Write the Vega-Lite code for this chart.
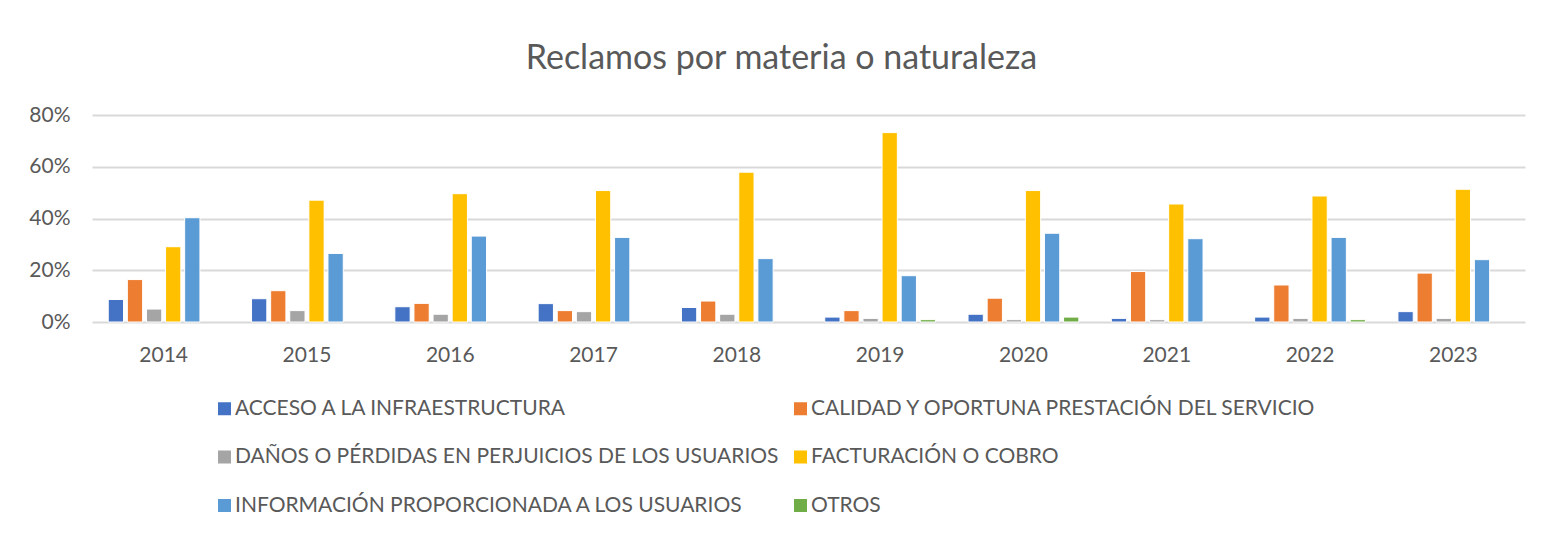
{
  "$schema": "https://vega.github.io/schema/vega-lite/v6.json",
  "width": 1433,
  "height": 207,
  "autosize": {"type": "none"},
  "padding": {"left": 92, "top": 115, "right": 17, "bottom": 211},
  "background": "white",
  "title": {
    "text": "Reclamos por materia o naturaleza",
    "font": "Lato",
    "fontSize": 34,
    "fontWeight": "normal",
    "color": "#595959",
    "anchor": "middle",
    "frame": "group",
    "dx": -27,
    "baseline": "alphabetic",
    "offset": 1
  },
  "data": {
    "values": [
      {"year": "2014", "cat": "ACCESO A LA INFRAESTRUCTURA", "value": 0.087},
      {"year": "2014", "cat": "CALIDAD Y OPORTUNA PRESTACIÓN DEL SERVICIO", "value": 0.164},
      {"year": "2014", "cat": "DAÑOS O PÉRDIDAS EN PERJUICIOS DE LOS USUARIOS", "value": 0.05},
      {"year": "2014", "cat": "FACTURACIÓN O COBRO", "value": 0.291},
      {"year": "2014", "cat": "INFORMACIÓN PROPORCIONADA A LOS USUARIOS", "value": 0.403},
      {"year": "2015", "cat": "ACCESO A LA INFRAESTRUCTURA", "value": 0.09},
      {"year": "2015", "cat": "CALIDAD Y OPORTUNA PRESTACIÓN DEL SERVICIO", "value": 0.121},
      {"year": "2015", "cat": "DAÑOS O PÉRDIDAS EN PERJUICIOS DE LOS USUARIOS", "value": 0.044},
      {"year": "2015", "cat": "FACTURACIÓN O COBRO", "value": 0.471},
      {"year": "2015", "cat": "INFORMACIÓN PROPORCIONADA A LOS USUARIOS", "value": 0.265},
      {"year": "2016", "cat": "ACCESO A LA INFRAESTRUCTURA", "value": 0.059},
      {"year": "2016", "cat": "CALIDAD Y OPORTUNA PRESTACIÓN DEL SERVICIO", "value": 0.072},
      {"year": "2016", "cat": "DAÑOS O PÉRDIDAS EN PERJUICIOS DE LOS USUARIOS", "value": 0.03},
      {"year": "2016", "cat": "FACTURACIÓN O COBRO", "value": 0.496},
      {"year": "2016", "cat": "INFORMACIÓN PROPORCIONADA A LOS USUARIOS", "value": 0.332},
      {"year": "2017", "cat": "ACCESO A LA INFRAESTRUCTURA", "value": 0.071},
      {"year": "2017", "cat": "CALIDAD Y OPORTUNA PRESTACIÓN DEL SERVICIO", "value": 0.044},
      {"year": "2017", "cat": "DAÑOS O PÉRDIDAS EN PERJUICIOS DE LOS USUARIOS", "value": 0.04},
      {"year": "2017", "cat": "FACTURACIÓN O COBRO", "value": 0.508},
      {"year": "2017", "cat": "INFORMACIÓN PROPORCIONADA A LOS USUARIOS", "value": 0.327},
      {"year": "2018", "cat": "ACCESO A LA INFRAESTRUCTURA", "value": 0.056},
      {"year": "2018", "cat": "CALIDAD Y OPORTUNA PRESTACIÓN DEL SERVICIO", "value": 0.081},
      {"year": "2018", "cat": "DAÑOS O PÉRDIDAS EN PERJUICIOS DE LOS USUARIOS", "value": 0.03},
      {"year": "2018", "cat": "FACTURACIÓN O COBRO", "value": 0.579},
      {"year": "2018", "cat": "INFORMACIÓN PROPORCIONADA A LOS USUARIOS", "value": 0.245},
      {"year": "2019", "cat": "ACCESO A LA INFRAESTRUCTURA", "value": 0.019},
      {"year": "2019", "cat": "CALIDAD Y OPORTUNA PRESTACIÓN DEL SERVICIO", "value": 0.044},
      {"year": "2019", "cat": "DAÑOS O PÉRDIDAS EN PERJUICIOS DE LOS USUARIOS", "value": 0.014},
      {"year": "2019", "cat": "FACTURACIÓN O COBRO", "value": 0.732},
      {"year": "2019", "cat": "INFORMACIÓN PROPORCIONADA A LOS USUARIOS", "value": 0.179},
      {"year": "2019", "cat": "OTROS", "value": 0.009},
      {"year": "2020", "cat": "ACCESO A LA INFRAESTRUCTURA", "value": 0.03},
      {"year": "2020", "cat": "CALIDAD Y OPORTUNA PRESTACIÓN DEL SERVICIO", "value": 0.092},
      {"year": "2020", "cat": "DAÑOS O PÉRDIDAS EN PERJUICIOS DE LOS USUARIOS", "value": 0.009},
      {"year": "2020", "cat": "FACTURACIÓN O COBRO", "value": 0.508},
      {"year": "2020", "cat": "INFORMACIÓN PROPORCIONADA A LOS USUARIOS", "value": 0.343},
      {"year": "2020", "cat": "OTROS", "value": 0.019},
      {"year": "2021", "cat": "ACCESO A LA INFRAESTRUCTURA", "value": 0.014},
      {"year": "2021", "cat": "CALIDAD Y OPORTUNA PRESTACIÓN DEL SERVICIO", "value": 0.195},
      {"year": "2021", "cat": "DAÑOS O PÉRDIDAS EN PERJUICIOS DE LOS USUARIOS", "value": 0.009},
      {"year": "2021", "cat": "FACTURACIÓN O COBRO", "value": 0.456},
      {"year": "2021", "cat": "INFORMACIÓN PROPORCIONADA A LOS USUARIOS", "value": 0.322},
      {"year": "2022", "cat": "ACCESO A LA INFRAESTRUCTURA", "value": 0.019},
      {"year": "2022", "cat": "CALIDAD Y OPORTUNA PRESTACIÓN DEL SERVICIO", "value": 0.143},
      {"year": "2022", "cat": "DAÑOS O PÉRDIDAS EN PERJUICIOS DE LOS USUARIOS", "value": 0.014},
      {"year": "2022", "cat": "FACTURACIÓN O COBRO", "value": 0.487},
      {"year": "2022", "cat": "INFORMACIÓN PROPORCIONADA A LOS USUARIOS", "value": 0.327},
      {"year": "2022", "cat": "OTROS", "value": 0.009},
      {"year": "2023", "cat": "ACCESO A LA INFRAESTRUCTURA", "value": 0.04},
      {"year": "2023", "cat": "CALIDAD Y OPORTUNA PRESTACIÓN DEL SERVICIO", "value": 0.189},
      {"year": "2023", "cat": "DAÑOS O PÉRDIDAS EN PERJUICIOS DE LOS USUARIOS", "value": 0.014},
      {"year": "2023", "cat": "FACTURACIÓN O COBRO", "value": 0.513},
      {"year": "2023", "cat": "INFORMACIÓN PROPORCIONADA A LOS USUARIOS", "value": 0.241}
    ]
  },
  "mark": {"type": "bar", "stroke": "white", "strokeWidth": 1},
  "encoding": {
    "x": {
      "field": "year",
      "type": "nominal",
      "scale": {"paddingInner": 0.2, "paddingOuter": 0.1},
      "axis": {
        "title": null,
        "labelAngle": 0,
        "domain": false,
        "ticks": false,
        "labelPadding": 22,
        "labelFont": "Lato",
        "labelFontSize": 21,
        "labelColor": "#595959"
      }
    },
    "xOffset": {
      "field": "cat",
      "type": "nominal",
      "sort": ["ACCESO A LA INFRAESTRUCTURA", "CALIDAD Y OPORTUNA PRESTACIÓN DEL SERVICIO", "DAÑOS O PÉRDIDAS EN PERJUICIOS DE LOS USUARIOS", "FACTURACIÓN O COBRO", "INFORMACIÓN PROPORCIONADA A LOS USUARIOS", "OTROS"],
      "scale": {"domain": ["ACCESO A LA INFRAESTRUCTURA", "CALIDAD Y OPORTUNA PRESTACIÓN DEL SERVICIO", "DAÑOS O PÉRDIDAS EN PERJUICIOS DE LOS USUARIOS", "FACTURACIÓN O COBRO", "INFORMACIÓN PROPORCIONADA A LOS USUARIOS", "OTROS"], "paddingInner": 0.2, "paddingOuter": 0.1}
    },
    "y": {
      "field": "value",
      "type": "quantitative",
      "scale": {"domain": [0, 0.8], "nice": false},
      "axis": {
        "title": null,
        "values": [0, 0.2, 0.4, 0.6, 0.8],
        "format": ".0%",
        "domain": false,
        "ticks": false,
        "labelPadding": 22,
        "labelFont": "Lato",
        "labelFontSize": 21,
        "labelColor": "#595959",
        "gridColor": "#D9D9D9",
        "gridWidth": 2
      }
    },
    "color": {
      "field": "cat",
      "type": "nominal",
      "sort": ["ACCESO A LA INFRAESTRUCTURA", "CALIDAD Y OPORTUNA PRESTACIÓN DEL SERVICIO", "DAÑOS O PÉRDIDAS EN PERJUICIOS DE LOS USUARIOS", "FACTURACIÓN O COBRO", "INFORMACIÓN PROPORCIONADA A LOS USUARIOS", "OTROS"],
      "scale": {
        "domain": ["ACCESO A LA INFRAESTRUCTURA", "CALIDAD Y OPORTUNA PRESTACIÓN DEL SERVICIO", "DAÑOS O PÉRDIDAS EN PERJUICIOS DE LOS USUARIOS", "FACTURACIÓN O COBRO", "INFORMACIÓN PROPORCIONADA A LOS USUARIOS", "OTROS"],
        "range": ["#4472C4", "#ED7D31", "#A5A5A5", "#FFC000", "#5B9BD5", "#70AD47"]
      },
      "legend": {
        "title": null,
        "orient": "none",
        "legendX": 122,
        "legendY": 283,
        "columns": 2,
        "direction": "horizontal",
        "symbolType": "square",
        "symbolSize": 169,
        "symbolStrokeWidth": 0,
        "labelFont": "Lato",
        "labelFontSize": 21,
        "labelColor": "#595959",
        "labelOffset": 0,
        "labelLimit": 800,
        "columnPadding": 11,
        "rowPadding": 26.5
      }
    }
  },
  "config": {"view": {"stroke": null}}
}
